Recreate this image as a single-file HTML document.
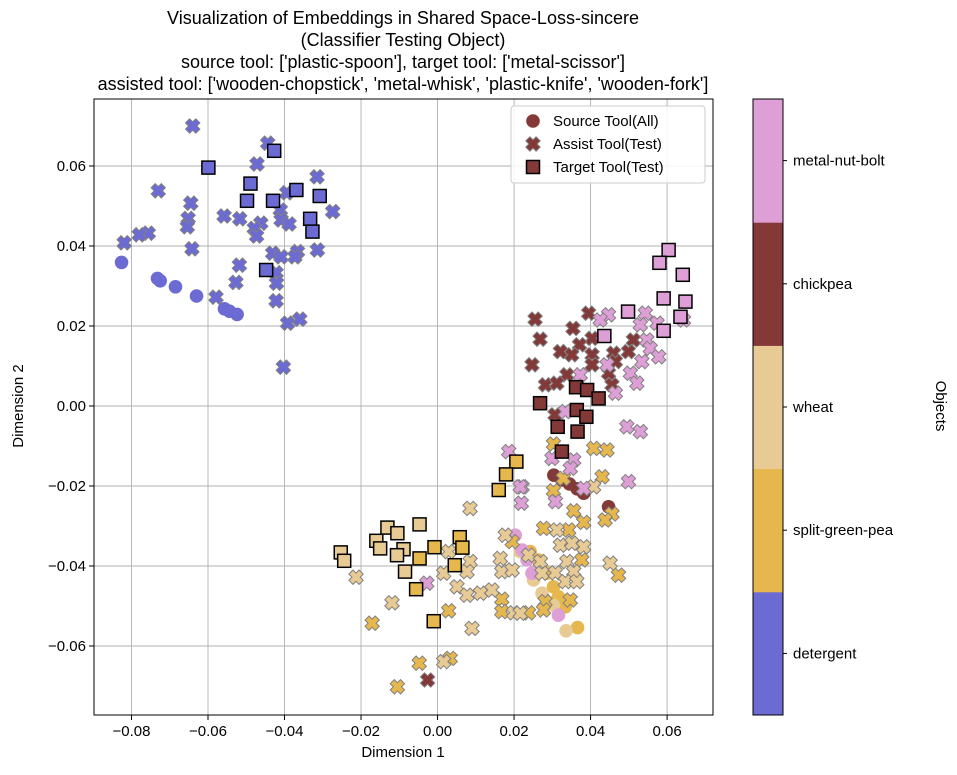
<!DOCTYPE html>
<html><head><meta charset="utf-8"><style>
body{margin:0;background:#fff;}
svg text{font-family:"Liberation Sans",sans-serif;fill:#000;}
</style></head><body>
<svg id="chart" width="957" height="770" xmlns="http://www.w3.org/2000/svg"></svg>
<script>
const categories = ["detergent","split-green-pea","wheat","chickpea","metal-nut-bolt"];
const colors = ["#6b6bd3","#e6b74d","#e8ca94","#843939","#dd9fd6"];
const xTicks = [-0.08,-0.06,-0.04,-0.02,0.00,0.02,0.04,0.06];
const yTicks = [-0.06,-0.04,-0.02,0.00,0.02,0.04,0.06];
const xTickLabels = ["−0.08","−0.06","−0.04","−0.02","0.00","0.02","0.04","0.06"];
const yTickLabels = ["−0.06","−0.04","−0.02","0.00","0.02","0.04","0.06"];

const sourceDetergent = [[-0.0826,0.0359],[-0.0732,0.0319],[-0.0725,0.0313],[-0.0685,0.0298],[-0.0630,0.0275],[-0.0557,0.0243],[-0.0544,0.0237],[-0.0524,0.0229]];
const sourceSplitPea = [[0.0242,-0.0364],[0.0264,-0.0385],[0.0286,-0.0418],[0.0303,-0.0452],[0.0316,-0.0477],[0.0334,-0.0502],[0.0366,-0.0554]];
const sourceWheat = [[0.0216,-0.0364],[0.0251,-0.0435],[0.0273,-0.0468],[0.0303,-0.0498],[0.0336,-0.0562]];
const sourceChickpea = [[0.0304,-0.0173],[0.0325,-0.0185],[0.0345,-0.0195],[0.0365,-0.0207],[0.0382,-0.0218],[0.0447,-0.0252]];
const sourceMetal = [[0.0203,-0.0323],[0.0221,-0.0360],[0.0234,-0.0385],[0.0247,-0.0418],[0.0316,-0.0523]];

const assistDetergent = [[-0.0640,0.0700],[-0.0444,0.0657],[-0.0472,0.0605],[-0.0315,0.0573],[-0.0730,0.0538],[-0.0645,0.0507],[-0.0394,0.0533],[-0.0274,0.0486],[-0.0652,0.0469],[-0.0654,0.0448],[-0.0558,0.0475],[-0.0517,0.0468],[-0.0462,0.0457],[-0.0479,0.0444],[-0.0473,0.0425],[-0.0411,0.0490],[-0.0409,0.0465],[-0.0388,0.0455],[-0.0756,0.0432],[-0.0780,0.0428],[-0.0819,0.0408],[-0.0642,0.0393],[-0.0431,0.0382],[-0.0409,0.0373],[-0.0366,0.0386],[-0.0373,0.0373],[-0.0314,0.0390],[-0.0518,0.0352],[-0.0422,0.0333],[-0.0421,0.0307],[-0.0527,0.0309],[-0.0422,0.0263],[-0.0579,0.0272],[-0.0392,0.0207],[-0.0360,0.0217],[-0.0403,0.0097]];
const assistChickpea = [[0.0255,0.0217],[0.0395,0.0232],[0.0354,0.0194],[0.0268,0.0167],[0.0404,0.0169],[0.0371,0.0153],[0.0321,0.0136],[0.0351,0.0128],[0.0404,0.0128],[0.0460,0.0132],[0.0247,0.0103],[0.0404,0.0103],[0.0447,0.0082],[0.0465,0.0111],[0.0338,0.0078],[0.0282,0.0053],[0.0312,0.0057],[0.0456,0.0053],[0.0512,0.0165],[0.0499,0.0136],[0.0307,-0.0022],[-0.0026,-0.0685]];
const assistMetal = [[0.0447,0.0228],[0.0425,0.0215],[0.0543,0.0232],[0.0530,0.0203],[0.0574,0.0207],[0.0643,0.0215],[0.0547,0.0165],[0.0556,0.0144],[0.0578,0.0123],[0.0534,0.0111],[0.0504,0.0082],[0.0521,0.0057],[0.0443,0.0103],[0.0465,0.0032],[0.0373,0.0078],[0.0495,-0.0052],[0.0530,-0.0064],[0.0334,-0.0014],[0.0186,-0.0114],[0.0299,-0.0131],[0.0356,-0.0135],[0.0347,-0.0156],[0.0221,-0.0202],[0.0499,-0.0189],[0.0382,-0.0206],[0.0216,-0.0202],[0.0219,-0.0243],[-0.0028,-0.0443],[0.0308,-0.0239]];
const assistSplitPea = [[0.0408,-0.0106],[0.0443,-0.0110],[0.0430,-0.0177],[0.0329,-0.0181],[0.0303,-0.0212],[0.0356,-0.0262],[0.0382,-0.0291],[0.0456,-0.0270],[0.0438,-0.0285],[0.0277,-0.0306],[0.0343,-0.0310],[0.0195,-0.0339],[0.0377,-0.0385],[0.0473,-0.0423],[0.0347,-0.0485],[0.0281,-0.0489],[0.0168,-0.0483],[0.0168,-0.0514],[0.0238,-0.0517],[0.0277,-0.0510],[0.0029,-0.0512],[-0.0171,-0.0543],[-0.0048,-0.0643],[0.0033,-0.0631],[-0.0105,-0.0702],[0.0303,-0.0095]];
const assistWheat = [[0.0085,-0.0256],[0.0177,-0.0323],[0.0164,-0.0381],[0.0168,-0.0414],[0.0195,-0.0410],[0.0029,-0.0364],[0.0085,-0.0389],[0.0016,-0.0418],[0.0077,-0.0414],[0.0051,-0.0452],[0.0077,-0.0473],[0.0112,-0.0468],[0.0142,-0.0460],[0.0090,-0.0556],[0.0016,-0.0639],[-0.0119,-0.0492],[-0.0213,-0.0428],[0.0312,-0.0310],[0.0321,-0.0348],[0.0351,-0.0343],[0.0382,-0.0352],[0.0238,-0.0373],[0.0269,-0.0389],[0.0273,-0.0418],[0.0308,-0.0417],[0.0338,-0.0389],[0.0356,-0.0414],[0.0334,-0.0439],[0.0364,-0.0439],[0.0451,-0.0393],[0.0408,-0.0202],[0.0199,-0.0517],[0.0216,-0.0518]];

const targetDetergent = [[-0.0427,0.0638],[-0.0599,0.0596],[-0.0489,0.0556],[-0.0498,0.0513],[-0.0430,0.0513],[-0.0369,0.0540],[-0.0308,0.0525],[-0.0333,0.0468],[-0.0327,0.0436],[-0.0448,0.0340]];
const targetChickpea = [[0.0362,0.0047],[0.0391,0.0040],[0.0421,0.0019],[0.0268,0.0007],[0.0364,-0.0010],[0.0389,-0.0027],[0.0314,-0.0052],[0.0366,-0.0064],[0.0325,-0.0114]];
const targetMetal = [[0.0604,0.0390],[0.0580,0.0358],[0.0641,0.0328],[0.0591,0.0269],[0.0648,0.0261],[0.0635,0.0223],[0.0591,0.0188],[0.0498,0.0236],[0.0436,0.0175]];
const targetSplitPea = [[0.0206,-0.0139],[0.0179,-0.0171],[0.0160,-0.0210],[-0.0047,-0.0381],[-0.0008,-0.0353],[0.0058,-0.0328],[0.0065,-0.0354],[0.0045,-0.0398],[-0.0056,-0.0458],[-0.0010,-0.0538]];
const targetWheat = [[-0.0253,-0.0366],[-0.0244,-0.0387],[-0.0131,-0.0304],[-0.0105,-0.0318],[-0.0160,-0.0337],[-0.0150,-0.0356],[-0.0089,-0.0358],[-0.0106,-0.0373],[-0.0047,-0.0296],[-0.0085,-0.0414]];

const NS="http://www.w3.org/2000/svg";
const svg=document.getElementById('chart');
const L=94,R=713,T=99,B=715;
const X0=-0.0898,X1=0.0720,Y0=-0.07725,Y1=0.07675;
function sx(v){return L+(v-X0)/(X1-X0)*(R-L);}
function sy(v){return B-(v-Y0)/(Y1-Y0)*(B-T);}
function mk(tag,attrs,parent){const e=document.createElementNS(NS,tag);for(const k in attrs)e.setAttribute(k,attrs[k]);(parent||svg).appendChild(e);return e;}
function txt(s,attrs,parent){const e=mk('text',attrs,parent);e.textContent=s;return e;}

const titles=["Visualization of Embeddings in Shared Space-Loss-sincere","(Classifier Testing Object)","source tool: ['plastic-spoon'], target tool: ['metal-scissor']","assisted tool: ['wooden-chopstick', 'metal-whisk', 'plastic-knife', 'wooden-fork']"];
titles.forEach((t,i)=>{const e=txt(t,{x:403,y:24+i*22,'text-anchor':'middle','font-size':18});

});

const grid=mk('g',{});


xTicks.forEach((v,i)=>{const x=sx(v);
mk('line',{x1:x,x2:x,y1:T,y2:B,stroke:'#b0b0b0','stroke-width':0.9},grid);
mk('line',{x1:x,x2:x,y1:B,y2:B+5,stroke:'#000'});
const e=txt(xTickLabels[i],{x:x,y:B+21,'text-anchor':'middle','font-size':15});

});
yTicks.forEach((v,i)=>{const y=sy(v);
mk('line',{x1:L,x2:R,y1:y,y2:y,stroke:'#b0b0b0','stroke-width':0.9},grid);
mk('line',{x1:L-5,x2:L,y1:y,y2:y,stroke:'#000'});
const e=txt(yTickLabels[i],{x:L-8,y:y+5,'text-anchor':'end','font-size':15});

});

function xPath(cx,cy,s){const a=s*0.2,b=s*0.5;
const p=[[-a,-b],[a,-b],[a,-a],[b,-a],[b,a],[a,a],[a,b],[-a,b],[-a,a],[-b,a],[-b,-a],[-a,-a]];
const c=Math.SQRT1_2;
return 'M'+p.map(q=>[(cx+(q[0]-q[1])*c).toFixed(1),(cy+(q[0]+q[1])*c).toFixed(1)].join(',')).join('L')+'Z';}

const marks=mk('g',{});


const sources=[sourceDetergent,sourceSplitPea,sourceWheat,sourceChickpea,sourceMetal];
const assists=[assistDetergent,assistSplitPea,assistWheat,assistChickpea,assistMetal];
const targets=[targetDetergent,targetSplitPea,targetWheat,targetChickpea,targetMetal];
sources.forEach((arr,ci)=>arr.forEach(d=>{const e=mk('circle',{cx:sx(d[0]),cy:sy(d[1]),r:6.8,fill:colors[ci]},marks);

}));
assists.forEach((arr,ci)=>arr.forEach(d=>{const e=mk('path',{d:xPath(sx(d[0]),sy(d[1]),14.5),fill:colors[ci],stroke:'#808080','stroke-width':1},marks);

}));
targets.forEach((arr,ci)=>arr.forEach(d=>{const e=mk('rect',{x:sx(d[0])-6.5,y:sy(d[1])-6.5,width:13,height:13,fill:colors[ci],stroke:'#000','stroke-width':1.5},marks);

}));

const fr=mk('rect',{x:L,y:T,width:R-L,height:B-T,fill:'none',stroke:'#000','stroke-width':1});



let e=txt('Dimension 1',{x:403,y:757,'text-anchor':'middle','font-size':15});


e=txt('Dimension 2',{x:0,y:0,'text-anchor':'middle','font-size':15,transform:'translate(23,406) rotate(-90)'});



const lg=mk('g',{});


mk('rect',{x:511,y:106,width:194,height:77,rx:3,fill:'#fff','fill-opacity':0.85,stroke:'#ccc'},lg);
mk('circle',{cx:533,cy:121,r:6.8,fill:'#843939'},lg);
mk('path',{d:xPath(533,144,14.5),fill:'#843939',stroke:'#808080','stroke-width':1},lg);
mk('rect',{x:526.5,y:160.5,width:13,height:13,fill:'#843939',stroke:'#000','stroke-width':1.5},lg);
[["Source Tool(All)",126],["Assist Tool(Test)",149],["Target Tool(Test)",172]].forEach(a=>{const t=txt(a[0],{x:553,y:a[1],'font-size':15},lg);

});

const cb=mk('g',{});


const CL=753,CW=30,seg=(B-T)/categories.length;
categories.forEach((c,i)=>{const y0=B-(i+1)*seg;
mk('rect',{x:CL,y:y0,width:CW,height:seg+0.5,fill:colors[i]},cb);
const yc=y0+seg/2;
mk('line',{x1:CL+CW,x2:CL+CW+4,y1:yc,y2:yc,stroke:'#000'},cb);
const t=txt(c,{x:793,y:yc+5,'font-size':15},cb);

});
mk('rect',{x:CL,y:T,width:CW,height:B-T,fill:'none',stroke:'#000'},cb);
e=txt('Objects',{x:0,y:0,'text-anchor':'middle','font-size':15,transform:'translate(936,406) rotate(90)'});


</script>
</body></html>
